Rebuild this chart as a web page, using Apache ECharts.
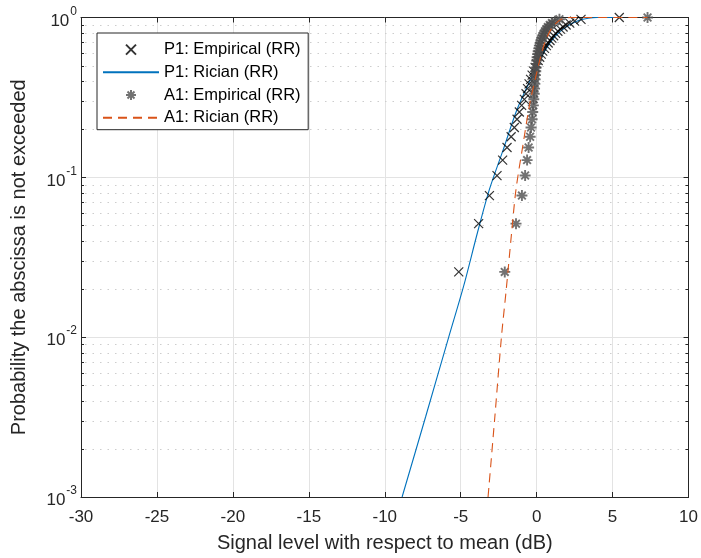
<!DOCTYPE html>
<html>
<head>
<meta charset="utf-8">
<script src="https://cdn.jsdelivr.net/npm/echarts@6/dist/echarts.min.js"></script>
<style>
html,body{margin:0;padding:0;background:#fff;}
#chart{width:701px;height:558px;}
</style>
</head>
<body>
<div id="chart"></div>
<script>
// ---- data ----
const empP = [0.0256,0.0513,0.0769,0.1026,0.1282,0.1538,0.1795,0.2051,0.2308,0.2564,0.2821,0.3077,0.3333,0.3590,0.3846,0.4103,0.4359,0.4615,0.4872,0.5128,0.5385,0.5641,0.5897,0.6154,0.6410,0.6667,0.6923,0.7179,0.7436,0.7692,0.7949,0.8205,0.8462,0.8718,0.8974,0.9231,0.9487,0.9744,1.0000];
const p1EmpX = [-5.13,-3.82,-3.11,-2.61,-2.24,-1.95,-1.68,-1.47,-1.29,-1.14,-0.99,-0.81,-0.70,-0.60,-0.50,-0.40,-0.30,-0.20,-0.10,0.00,0.10,0.20,0.30,0.40,0.52,0.64,0.76,0.88,1.00,1.12,1.25,1.40,1.56,1.74,1.94,2.18,2.50,2.92,5.44];
const a1EmpX = [-2.10,-1.36,-0.97,-0.76,-0.63,-0.53,-0.43,-0.37,-0.30,-0.26,-0.22,-0.19,-0.16,-0.14,-0.12,-0.10,-0.08,-0.06,-0.04,-0.02,0.00,0.03,0.06,0.10,0.14,0.18,0.23,0.28,0.34,0.40,0.47,0.55,0.64,0.74,0.86,1.00,1.20,1.50,7.30];
const p1RicX = [-8.86,-7.30,-5.79,-4.80,-3.90,-3.11,-2.20,-1.30,-0.40,0.45,1.20,2.00,2.80,3.40,4.00,5.44];
const p1RicP = [0.001,0.0032,0.01,0.021,0.045,0.084,0.149,0.265,0.41,0.60,0.76,0.88,0.96,0.99,1.0,1.0];
const a1RicX = [-3.20,-2.75,-2.32,-2.00,-1.65,-1.36,-0.90,-0.45,0.00,0.50,1.00,1.50,1.90,2.40,7.30];
const a1RicP = [0.001,0.0032,0.01,0.02,0.045,0.084,0.16,0.29,0.45,0.68,0.86,0.96,0.995,1.0,1.0];
const xTicks = [-30,-25,-20,-15,-10,-5,0,5,10];
const yMajor = [0.001,0.01,0.1,1];
const yMinor = [0.002,0.003,0.004,0.005,0.006,0.007,0.008,0.009,0.02,0.03,0.04,0.05,0.06,0.07,0.08,0.09,0.2,0.3,0.4,0.5,0.6,0.7,0.8,0.9];
const seriesNames = ['P1: Empirical (RR)','P1: Rician (RR)','A1: Empirical (RR)','A1: Rician (RR)'];

const zip = (xs, ys) => xs.map((x, i) => [x, ys[i]]);
const FONT = "'Liberation Sans', Arial, Helvetica, sans-serif";
const AX = '#262626';
const CLEAR = 'rgba(0,0,0,0)';
const crossPath = 'path://M0,0L10,10M10,0L0,10';
const starPath = 'path://M5,0L5,10M0,5L10,5M1.5,1.5L8.5,8.5M8.5,1.5L1.5,8.5';

const chart = echarts.init(document.getElementById('chart'), null, {renderer: 'canvas'});
const xMin = xTicks[0], xMax = xTicks[xTicks.length - 1];
const yMin = yMajor[0], yMax = yMajor[yMajor.length - 1];

const supLabel = v => '{b|10}{s|' + Math.round(Math.log10(v)) + '}';
const richY = {
  b: {fontSize: 17, fontFamily: FONT, color: AX, lineHeight: 24, verticalAlign: 'bottom'},
  s: {fontSize: 12, fontFamily: FONT, color: AX, lineHeight: 24, verticalAlign: 'top', padding: [0,0,0,1]}
};

const option = {
  animation: false,
  backgroundColor: '#fff',
  grid: {left: 81, right: 12, top: 17.5, bottom: 59.5, containLabel: false},
  legend: {
    orient: 'vertical', left: 97, top: 33,
    data: seriesNames,
    itemWidth: 56, itemHeight: 10, itemGap: 4.7,
    padding: [7.6, 7.6, 3, 5],
    borderColor: AX, borderWidth: 1, backgroundColor: '#fff',
    textStyle: {fontSize: 16.5, fontFamily: FONT, color: '#000', lineHeight: 18},
    selectedMode: false
  },
  xAxis: [{
    type: 'value', min: xMin, max: xMax, interval: 5,
    name: 'Signal level with respect to mean (dB)', nameLocation: 'middle', nameGap: 36,
    nameTextStyle: {fontSize: 20, fontFamily: FONT, color: AX},
    axisLine: {onZero: false, lineStyle: {color: AX, width: 1}},
    axisTick: {inside: true, length: 5, lineStyle: {color: AX}},
    axisLabel: {fontSize: 17, fontFamily: FONT, color: AX, margin: 12},
    splitLine: {show: true, lineStyle: {color: '#e3e3e3', width: 1}}
  }, {
    type: 'value', position: 'top', min: xMin, max: xMax, interval: 5,
    axisLine: {show: true, onZero: false, lineStyle: {color: AX, width: 1}},
    axisTick: {inside: true, length: 5, lineStyle: {color: AX}},
    axisLabel: {show: false}, splitLine: {show: false}
  }],
  yAxis: [{
    type: 'log', logBase: 10, min: yMin, max: yMax,
    name: 'Probability the abscissa is not exceeded', nameLocation: 'middle', nameGap: 52,
    nameTextStyle: {fontSize: 20, fontFamily: FONT, color: AX},
    axisLine: {show: true, onZero: false, lineStyle: {color: AX, width: 1}},
    axisTick: {inside: true, length: 5, lineStyle: {color: AX}},
    axisLabel: {formatter: supLabel, rich: richY, margin: 4},
    splitLine: {show: true, lineStyle: {color: '#e3e3e3', width: 1}}
  }, {
    type: 'log', logBase: 10, min: yMin, max: yMax, position: 'right',
    axisLine: {show: true, onZero: false, lineStyle: {color: AX, width: 1}},
    axisTick: {inside: true, length: 5, lineStyle: {color: AX}},
    axisLabel: {show: false}, splitLine: {show: false}
  }],
  series: [
    {
      type: 'custom', name: 'minor', silent: true, z: 1,
      data: yMinor.map(v => [xMin, v]), encode: {x: 0, y: 1},
      renderItem: (params, api) => {
        const y = api.value(1);
        const pL = api.coord([xMin, y]);
        const pR = api.coord([xMax, y]);
        const yy = Math.round(pL[1]) + 0.5;
        return {type: 'group', children: [
          {type: 'line', shape: {x1: pL[0] + 4, y1: yy, x2: pR[0], y2: yy}, style: {stroke: '#cdcdcd', lineWidth: 1, lineDash: [1.5, 6]}},
          {type: 'line', shape: {x1: pL[0], y1: yy, x2: pL[0] + 3, y2: yy}, style: {stroke: AX, lineWidth: 1}},
          {type: 'line', shape: {x1: pR[0] - 3, y1: yy, x2: pR[0], y2: yy}, style: {stroke: AX, lineWidth: 1}}
        ]};
      }
    },
    {
      name: seriesNames[0], type: 'scatter', clip: false, z: 4,
      data: zip(p1EmpX, empP),
      symbol: crossPath, symbolSize: 9, symbolKeepAspect: true,
      itemStyle: {color: CLEAR, borderColor: '#000', borderWidth: 1.2}
    },
    {
      name: seriesNames[1], type: 'line', clip: false, z: 3,
      data: zip(p1RicX, p1RicP), smooth: 0.3, showSymbol: false, symbol: 'circle', symbolSize: 0,
      lineStyle: {color: '#0072BD', width: 1.1}, itemStyle: {color: CLEAR, borderColor: CLEAR, borderWidth: 0}
    },
    {
      name: seriesNames[2], type: 'scatter', clip: false, z: 4,
      data: zip(a1EmpX, empP),
      symbol: starPath, symbolSize: 11, symbolKeepAspect: true,
      itemStyle: {color: CLEAR, borderColor: '#4f4f4f', borderWidth: 1.9}
    },
    {
      name: seriesNames[3], type: 'line', clip: false, z: 5,
      data: zip(a1RicX, a1RicP), smooth: 0.3, showSymbol: false, symbol: 'circle', symbolSize: 0,
      lineStyle: {color: '#D95319', width: 1.1, type: [9, 6]}, itemStyle: {color: CLEAR, borderColor: CLEAR, borderWidth: 0}
    }
  ]
};
chart.setOption(option);
</script>
</body>
</html>
